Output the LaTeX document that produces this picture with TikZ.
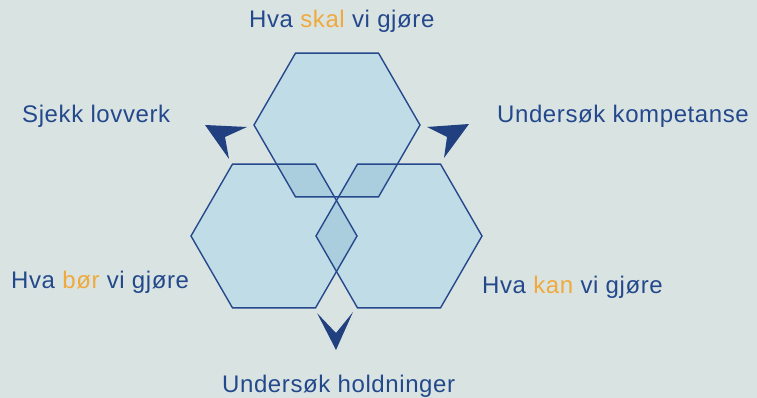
\documentclass[tikz,border=0pt]{standalone}
\usepackage{fontspec}
\setmainfont{Liberation Sans}
\definecolor{bg}{RGB}{217,228,226}
\definecolor{hexfill}{RGB}{192,220,230}
\definecolor{ovfill}{RGB}{170,206,222}
\definecolor{edge}{RGB}{38,72,140}
\definecolor{tblue}{RGB}{36,72,140}
\definecolor{torange}{RGB}{240,169,60}
\definecolor{arrowc}{RGB}{32,64,128}
\begin{document}
\begin{tikzpicture}[x=1pt,y=-1pt,
  lbl/.style={font=\fontsize{24}{27}\selectfont\addfontfeature{LetterSpace=2.5}, text=tblue, inner sep=0pt, anchor=base west},
  hexline/.style={draw=edge, line width=1.4pt, line join=miter},
  dart/.style={fill=arrowc, draw=none}]
\path[fill=bg, use as bounding box] (0,0) rectangle (757,398);
\def\R{83}
\def\H{71.9}
\def\hexpath#1#2{(#1-\R,#2) -- (#1-\R/2,#2-\H) -- (#1+\R/2,#2-\H) -- (#1+\R,#2) -- (#1+\R/2,#2+\H) -- (#1-\R/2,#2+\H) -- cycle}
% fills
\fill[hexfill] \hexpath{337}{125};
\fill[hexfill] \hexpath{274}{236};
\fill[hexfill] \hexpath{399}{236};
% overlaps
\begin{scope}
  \clip \hexpath{337}{125};
  \fill[ovfill] \hexpath{274}{236};
  \fill[ovfill] \hexpath{399}{236};
\end{scope}
\begin{scope}
  \clip \hexpath{274}{236};
  \fill[ovfill] \hexpath{399}{236};
\end{scope}
% outlines
\draw[hexline] \hexpath{337}{125};
\draw[hexline] \hexpath{274}{236};
\draw[hexline] \hexpath{399}{236};
% arrowheads
\fill[dart] (205,125) -- (247,127) -- (225,137) -- (229,159) -- cycle;
\fill[dart] (469,124) -- (444,158) -- (447,137) -- (427,127) -- cycle;
\fill[dart] (336,350) -- (317,313) -- (336,333) -- (353,312) -- cycle;
% labels
\node[lbl] (top) at (249,28) {Hva \textcolor{torange}{skal} vi gjøre};
\node[lbl] (tl) at (22,123) {Sjekk lovverk};
\node[lbl] (tr) at (497,123) {Undersøk kompetanse};
\node[lbl] (bl) at (11,288) {Hva \textcolor{torange}{bør} vi gjøre};
\node[lbl] (br) at (482,293) {Hva \textcolor{torange}{kan} vi gjøre};
\node[lbl] (bot) at (222,392) {Undersøk holdninger};
\end{tikzpicture}
\end{document}
